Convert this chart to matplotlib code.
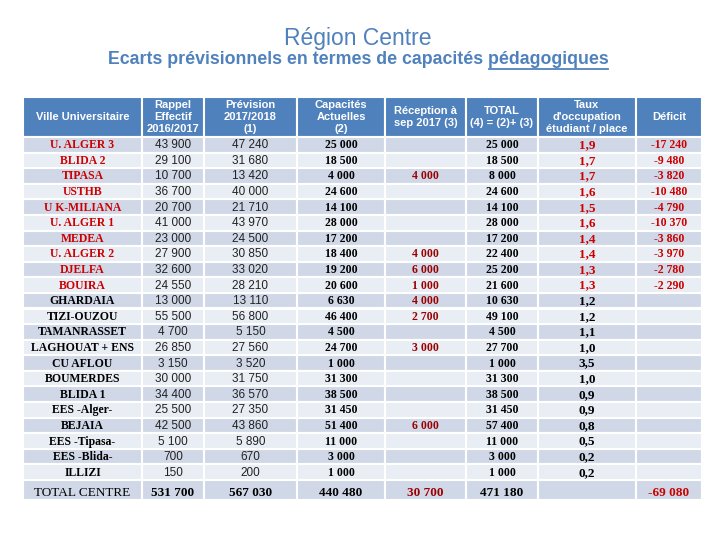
import matplotlib
matplotlib.use("Agg")
import matplotlib.pyplot as plt
from matplotlib.patches import Rectangle

# --- données du tableau ---
villes = ["U. ALGER 3", "BLIDA 2", "TIPASA", "USTHB", "U K-MILIANA", "U. ALGER 1",
          "MEDEA", "U. ALGER 2", "DJELFA", "BOUIRA", "GHARDAIA", "TIZI-OUZOU",
          "TAMANRASSET", "LAGHOUAT + ENS", "CU AFLOU", "BOUMERDES", "BLIDA 1",
          "EES -Alger-", "BEJAIA", "EES -Tipasa-", "EES -Blida-", "ILLIZI"]
rappel = [43900, 29100, 10700, 36700, 20700, 41000, 23000, 27900, 32600, 24550, 13000,
          55500, 4700, 26850, 3150, 30000, 34400, 25500, 42500, 5100, 700, 150]
prevision = [47240, 31680, 13420, 40000, 21710, 43970, 24500, 30850, 33020, 28210, 13110,
             56800, 5150, 27560, 3520, 31750, 36570, 27350, 43860, 5890, 670, 200]
capacite = [25000, 18500, 4000, 24600, 14100, 28000, 17200, 18400, 19200, 20600, 6630,
            46400, 4500, 24700, 1000, 31300, 38500, 31450, 51400, 11000, 3000, 1000]
reception = [None, None, 4000, None, None, None, None, 4000, 6000, 1000, 4000,
             2700, None, 3000, None, None, None, None, 6000, None, None, None]
total = [25000, 18500, 8000, 24600, 14100, 28000, 17200, 22400, 25200, 21600, 10630,
         49100, 4500, 27700, 1000, 31300, 38500, 31450, 57400, 11000, 3000, 1000]
taux = [1.9, 1.7, 1.7, 1.6, 1.5, 1.6, 1.4, 1.4, 1.3, 1.3, 1.2,
        1.2, 1.1, 1.0, 3.5, 1.0, 0.9, 0.9, 0.8, 0.5, 0.2, 0.2]
deficit = [-17240, -9480, -3820, -10480, -4790, -10370, -3860, -3970, -2780, -2290] + [None] * 12
n_rouge = 10  # les 10 premières villes en rouge

totaux = ["531 700", "567 030", "440 480", "30 700", "471 180", "", "-69 080"]

entetes = ["Ville Universitaire", "Rappel\nEffectif\n2016/2017", "Prévision\n2017/2018\n(1)",
           "Capacités\nActuelles\n(2)", "Réception à\nsep 2017 (3)", "TOTAL\n(4) = (2)+ (3)",
           "Taux\nd'occupation\nétudiant / place", "Déficit"]


def fmt(v):
    if v is None:
        return ""
    s = f"{abs(v):,}".replace(",", " ")
    return ("-" if v < 0 else "") + s


# --- mise en page ---
bleu = "#4F81BD"
fonce = "#D0D8E8"
clair = "#E9EDF4"
rouge = "#CC0000"
rouge_f = "#9A0000"

xb = [23, 142, 204, 297, 385, 466, 538, 636, 702]
y_head = (97, 137)
row_h = (480 - 137) / len(villes)
y_tot = (480, 500)

fig = plt.figure(figsize=(7.2, 5.4), dpi=100)
ax = fig.add_axes([0, 0, 1, 1])
ax.set_xlim(0, 720)
ax.set_ylim(540, 0)
ax.axis("off")

serif = "Liberation Serif"
sans = "Liberation Sans"

# titres
ax.text(358, 38, "Région Centre", ha="center", va="center", fontsize=16.5,
        color="#4F81BD", family=sans)
sous = "Ecarts prévisionnels en termes de capacités pédagogiques"
t = ax.text(358, 60, sous, ha="center", va="center", fontsize=12.8,
            fontweight="bold", color="#4F81BD", family=sans)
fig.canvas.draw()
r = fig.canvas.get_renderer()
bb = t.get_window_extent(r)
pre = ax.text(0, 0, "Ecarts prévisionnels en termes de capacités ", fontsize=12.8,
              fontweight="bold", family=sans)
wpre = pre.get_window_extent(r).width
pre.remove()
x0 = bb.x0 + wpre
ax.plot([x0 + 1, bb.x1], [69, 69], color="#4F81BD", lw=1.3)


def cell(c, y0, y1, color):
    ax.add_patch(Rectangle((xb[c], y0), xb[c + 1] - xb[c], y1 - y0,
                           facecolor=color, edgecolor="white", lw=1.5))


# en-tête
for c, h in enumerate(entetes):
    cell(c, y_head[0], y_head[1], bleu)
    xc = (xb[c] + xb[c + 1]) / 2
    ax.text(xc, (y_head[0] + y_head[1]) / 2 + 0.5, h, ha="center", va="center",
            fontsize=8, fontweight="bold", color="white", family=sans,
            linespacing=1.25)

# lignes
for i, v in enumerate(villes):
    y0 = y_head[1] + i * row_h
    y1 = y0 + row_h
    yc = (y0 + y1) / 2 + 0.5
    bg = fonce if i % 2 == 0 else clair
    for c in range(8):
        cell(c, y0, y1, bg)
    cx = [(xb[c] + xb[c + 1]) / 2 for c in range(8)]
    red = i < n_rouge
    ax.text(cx[0], yc, v, ha="center", va="center", fontsize=8.5, fontweight="bold",
            family=serif, color=rouge if red else "black")
    ax.text(cx[1], yc, fmt(rappel[i]), ha="center", va="center", fontsize=8.5,
            family=sans, color="#222222")
    ax.text(cx[2], yc, fmt(prevision[i]), ha="center", va="center", fontsize=8.5,
            family=sans, color="#222222")
    ax.text(cx[3], yc, fmt(capacite[i]), ha="center", va="center", fontsize=8.5,
            fontweight="bold", family=serif, color="black")
    ax.text(cx[4], yc, fmt(reception[i]), ha="center", va="center", fontsize=8.5,
            fontweight="bold", family=serif, color=rouge_f)
    ax.text(cx[5], yc, fmt(total[i]), ha="center", va="center", fontsize=8.5,
            fontweight="bold", family=serif, color="black")
    ax.text(cx[6], yc, f"{taux[i]:.1f}".replace(".", ","), ha="center", va="center",
            fontsize=9.5, fontweight="bold", family=serif, color=rouge if red else "black")
    ax.text(cx[7], yc, fmt(deficit[i]), ha="center", va="center", fontsize=8.5,
            fontweight="bold", family=serif, color=rouge)

# ligne total
yc = 493
for c in range(8):
    cell(c, y_tot[0], y_tot[1], fonce)
cx = [(xb[c] + xb[c + 1]) / 2 for c in range(8)]
ax.text(cx[0], yc, "TOTAL CENTRE", ha="center", va="center", fontsize=9.5,
        family=serif, color="black")
couleurs_tot = ["black", "black", "black", rouge_f, "black", "black", rouge]
for c, (s, col) in enumerate(zip(totaux, couleurs_tot), start=1):
    ax.text(cx[c], yc, s, ha="center", va="center", fontsize=9.5,
            fontweight="bold", family=serif, color=col)

fig.savefig("out.png", dpi=100)
